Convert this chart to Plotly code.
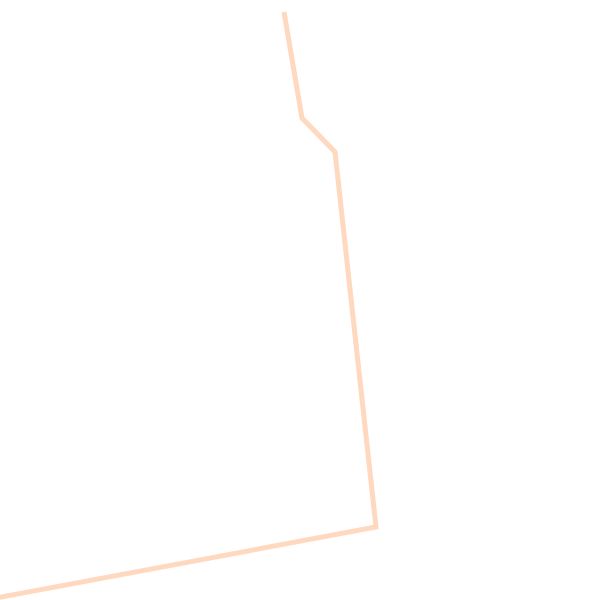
import plotly.graph_objects as go

# Path of the line (in plot units: x to the right, y upward)
x_vals = [-4, 376, 335, 302, 284]
y_vals = [2, 73, 448, 482, 588]

fig = go.Figure()
fig.add_trace(go.Scatter(
    x=x_vals, y=y_vals, mode="lines",
    line=dict(color="rgb(255,216,192)", width=5),
    hoverinfo="skip", showlegend=False,
))
fig.update_layout(
    width=600, height=600,
    margin=dict(l=0, r=0, t=0, b=0),
    paper_bgcolor="white", plot_bgcolor="white",
    xaxis=dict(range=[0, 600], visible=False, fixedrange=True),
    yaxis=dict(range=[0, 600], visible=False, fixedrange=True),
    showlegend=False,
)
fig.write_html(
    "out.html",
    config={"displayModeBar": False},
    post_script="document.body.style.margin='0';document.body.style.overflow='hidden';",
)
